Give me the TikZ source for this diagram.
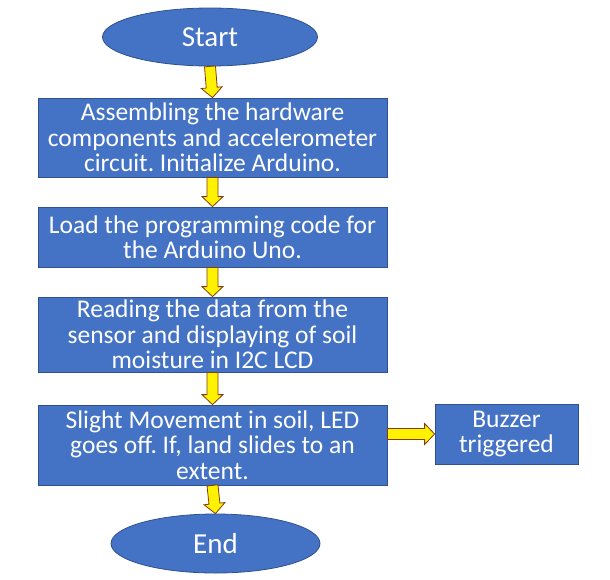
\documentclass[tikz,border=0pt]{standalone}
\usepackage{fontspec}
\setmainfont{Carlito}
\frenchspacing
\usetikzlibrary{shapes.geometric,calc}

\definecolor{boxblue}{HTML}{4472C4}
\definecolor{boxedge}{HTML}{2F528F}
\definecolor{arrowedge}{HTML}{843C0C}

\tikzset{
	stepbox/.style={rectangle, draw=boxedge, line width=0.8pt, fill=boxblue, text=white,
		align=center, inner sep=0pt, font=\fontsize{25.5}{25.3}\selectfont},
	terminal/.style={ellipse, draw=boxedge, line width=0.8pt, fill=boxblue, text=white,
		inner sep=0pt, font=\fontsize{29}{30}\selectfont},
	arrowfill/.style={fill=yellow, draw=arrowedge, line width=0.8pt, line join=miter}
}

% block arrow from #1 to #2
\newcommand{\yarrow}[2]{%
	\path (#1) coordinate (ya) (#2) coordinate (yb);
	\path ($(yb)!10pt!(ya)$) coordinate (yh);
	\draw[arrowfill] ($(ya)!5.5pt!90:(yb)$) -- ($(yh)!5.5pt!90:(yb)$) -- ($(yh)!10.5pt!90:(yb)$)
		-- (yb) -- ($(yh)!10.5pt!-90:(yb)$) -- ($(yh)!5.5pt!-90:(yb)$) -- ($(ya)!5.5pt!-90:(yb)$) -- cycle;
}

\begin{document}
\begin{tikzpicture}[x=1pt, y=-1pt]
	\useasboundingbox (0,0) rectangle (610,579);
	\node[terminal, minimum width=215pt, minimum height=58pt] (start) at (210,37) {Start};
	\node[stepbox, minimum width=349pt, minimum height=79pt] (assemble) at (212.5,137.5)
		{Assembling the hardware\\components and accelerometer\\circuit. Initialize Arduino.};
	\node[stepbox, minimum width=349pt, minimum height=60pt] (load) at (212.5,237)
		{Load the programming code for\\the Arduino Uno.};
	\node[stepbox, minimum width=349pt, minimum height=75pt] (read) at (212.5,334.5)
		{Reading the data from the\\sensor and displaying of soil\\moisture in I2C LCD};
	\node[stepbox, minimum width=349pt, minimum height=80pt] (move) at (212.5,445)
		{Slight Movement in soil, LED\\goes off. If, land slides to an\\extent.};
	\node[stepbox, minimum width=143pt, minimum height=60pt] (buzzer) at (506.5,434)
		{Buzzer\\triggered};
	\node[terminal, minimum width=209pt, minimum height=59pt] (end) at (215.5,543.5) {End};

	\yarrow{start.south}{assemble.north}
	\yarrow{assemble.south}{load.north}
	\yarrow{load.south}{read.north}
	\yarrow{read.south}{move.north}
	\yarrow{move.south}{end.north}
	\yarrow{move.east |- buzzer.west}{buzzer.west}
\end{tikzpicture}
\end{document}
